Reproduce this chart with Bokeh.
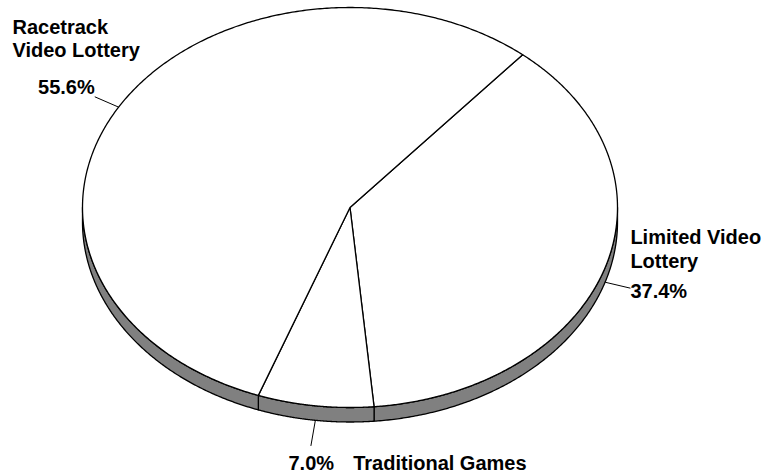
import numpy as np
from bokeh.plotting import figure
from bokeh.models import Range1d
from bokeh.core.properties import value
from bokeh.embed import file_html
from bokeh.resources import INLINE

# ---- data ----
categories = ["Limited Video Lottery", "Traditional Games", "Racetrack Video Lottery"]
shares = [37.4, 7.0, 55.6]
pct_labels = ["37.4%", "7.0%", "55.6%"]
name_lines = [["Limited Video", "Lottery"], ["Traditional Games"], ["Racetrack", "Video Lottery"]]

# ---- layout / style ----
W, H = 769, 475
PAGE = 0
CX, CY = 349.5, 207.0        # px of pie centre
RX, RY = 267.5, 200.0        # px radii of the ellipse
DEPTH = 14.5 / RY            # rim depth in y data units
START = 49.8                 # degrees, slices run clockwise
LEADER = 26.0                # px
RIM = "#808080"
FONT = value("Liberation Sans")
TXT_SHIFT = -6.5             # px baseline correction

# label offsets (px, y down) relative to leader end: (dx, dy, align)
pct_off = [(0, 9.4, "left"), (-22.4, 23.3, "left"), (0, -3.4, "right")]
name_off = [[(0, -44.3), (0, -20.3)], [(42.3, 23.3)], [(-82.3, -63.4), (-82.3, -40.0)]]

p = figure(width=W, height=H, output_backend="svg", toolbar_location=None,
           x_range=Range1d((PAGE - CX) / RX, (PAGE + W - CX) / RX),
           y_range=Range1d(-(PAGE + H - CY) / RY, (CY - PAGE) / RY),
           min_border=0, outline_line_color=None)
p.axis.visible = False
p.grid.visible = False
p.background_fill_color = "white"
p.border_fill_color = "white"

cum = np.concatenate([[0], np.cumsum(shares)])
bounds = START - cum * 360.0 / cum[-1]

# rim (front side only)
rim_xs, rim_ys = [], []
for i in range(len(shares)):
    hi, lo = bounds[i], bounds[i + 1]
    for k in range(-2, 3):
        a_hi = min(hi, k * 360.0)
        a_lo = max(lo, k * 360.0 - 180.0)
        if a_hi - a_lo > 1e-6:
            t = np.radians(np.linspace(a_hi, a_lo, 200))
            xs = np.concatenate([np.cos(t), np.cos(t[::-1])])
            ys = np.concatenate([np.sin(t), np.sin(t[::-1]) - DEPTH])
            rim_xs.append(list(xs))
            rim_ys.append(list(ys))
p.patches(rim_xs, rim_ys, fill_color=RIM, line_color="black", line_width=1.3, line_join="round")

# top face slices
top_xs, top_ys = [], []
for i in range(len(shares)):
    t = np.radians(np.linspace(bounds[i], bounds[i + 1], 400))
    top_xs.append([0.0] + list(np.cos(t)))
    top_ys.append([0.0] + list(np.sin(t)))
p.patches(top_xs, top_ys, fill_color="white", line_color="black", line_width=1.3, line_join="round")

# leaders and labels
lx, ly = [], []
for i in range(len(shares)):
    m = np.radians((bounds[i] + bounds[i + 1]) / 2)
    sx, sy = np.cos(m), np.sin(m)
    if sy < 0:
        sy -= DEPTH
    ux, uy = RX * np.cos(m), -RY * np.sin(m)
    n = np.hypot(ux, uy)
    ux, uy = ux / n, uy / n
    ex = sx + LEADER * ux / RX
    ey = sy - LEADER * uy / RY
    lx.append([sx, ex])
    ly.append([sy, ey])
    dx, dy, al = pct_off[i]
    p.text(x=[ex], y=[ey], text=[pct_labels[i]], x_offset=dx, y_offset=dy + TXT_SHIFT,
           text_align=al, text_baseline="alphabetic", text_font=FONT,
           text_font_style="bold", text_font_size="20px", text_color="black")
    for line, (ndx, ndy) in zip(name_lines[i], name_off[i]):
        p.text(x=[ex], y=[ey], text=[line], x_offset=ndx, y_offset=ndy + TXT_SHIFT,
               text_align="left", text_baseline="alphabetic", text_font=FONT,
               text_font_style="bold", text_font_size="20px", text_color="black")
p.multi_line(lx, ly, line_color="black", line_width=1)

open("out.html", "w").write(file_html(p, INLINE))
